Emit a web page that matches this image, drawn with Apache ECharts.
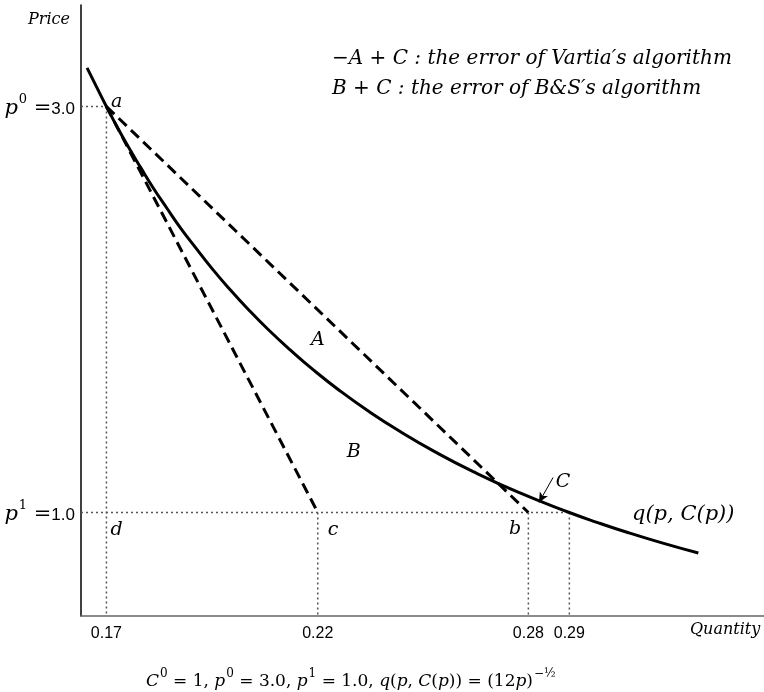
<!DOCTYPE html>
<html lang="en" style="height: 100%">
<head>
    <meta charset="utf-8" />
    <script src="https://cdn.jsdelivr.net/npm/echarts@6/dist/echarts.min.js"></script>
</head>
<body style="height: 100%; margin: 0; background: #fff">
    <div id="container" style="width: 764px; height: 692px;"></div>
    <script type="text/javascript">
        var dom = document.getElementById('container');
        var myChart = echarts.init(dom, null, { renderer: 'canvas' });

        // demand curve q(p, C(p))
        const curvePrice = [3.19, 3.1, 3.0, 2.9, 2.8, 2.7, 2.6, 2.5, 2.4, 2.3, 2.2, 2.1, 2.0, 1.9, 1.8,
            1.7, 1.6, 1.5, 1.4, 1.3, 1.2, 1.1, 1.0, 0.95, 0.9, 0.85, 0.8];
        const curveQty = [0.1616, 0.1640, 0.1667, 0.1695, 0.1725, 0.1757, 0.1790, 0.1826, 0.1863, 0.1904, 0.1946,
            0.1992, 0.2041, 0.2094, 0.2152, 0.2214, 0.2282, 0.2357, 0.2440, 0.2532, 0.2635, 0.2752, 0.2887,
            0.2962, 0.3043, 0.3131, 0.3227];

        const p0 = 3.0, p1 = 1.0;
        const qd = 0.1667;  // a / d
        const qc = 0.2224;  // c
        const qb = 0.2779;  // b
        const q1 = 0.2887;  // curve at p1
        const xTicks = [qd, qc, qb, q1];
        const yTicks = [p1, p0];
        const yTickNames = { 1: '1', 3: '0' };

        // annotations: [text, q, p]
        const pointLabels = [
            ['a', 0.1694, 3.02],
            ['d', 0.1694, 0.911],
            ['c', 0.2264, 0.911],
            ['b', 0.2744, 0.916],
            ['A', 0.2224, 1.847],
            ['B', 0.2319, 1.30],
            ['C', 0.2870, 1.148]
        ];
        const curveName = ['q(p, C(p))', 0.3052, 0.99];
        const arrowFrom = [0.2844, 1.172], arrowTo = [0.2807, 1.049];

        const xMin = 0.16, xMax = 0.34, yMin = 0.49, yMax = 3.5;

        const serifIt = { fontFamily: 'DejaVu Serif', fontStyle: 'italic', color: '#000' };
        const dotted = { color: '#555', width: 1.5, type: [2, 3] };
        const dashed = { color: '#000', width: 3, type: [11, 6] };

        function seg(pts, style) {
            return {
                type: 'line', data: pts, symbol: 'none', silent: true,
                lineStyle: style, z: 2
            };
        }

        var option = {
            backgroundColor: '#fff',
            animation: false,
            grid: { left: 81, right: 0, top: 5, bottom: 76, outerBoundsMode: 'none' },
            xAxis: {
                type: 'value', min: xMin, max: xMax,
                splitLine: { show: false },
                axisTick: { show: false },
                axisLine: { lineStyle: { color: '#666', width: 1.5 } },
                axisLabel: {
                    customValues: xTicks,
                    formatter: v => v.toFixed(2),
                    fontFamily: 'Liberation Sans', fontSize: 16, color: '#000', margin: 10
                }
            },
            yAxis: {
                type: 'value', min: yMin, max: yMax,
                splitLine: { show: false },
                axisTick: { show: false },
                axisLine: { show: true, lineStyle: { color: '#000', width: 1.5 } },
                axisLabel: {
                    customValues: yTicks,
                    margin: 6,
                    formatter: v => '{p|p}{s|' + yTickNames[Math.round(v)] + '}{e| =}{n|' + v.toFixed(1) + '}',
                    rich: {
                        p: { fontFamily: 'DejaVu Serif', fontStyle: 'italic', fontSize: 21, color: '#000', lineHeight: 26, verticalAlign: 'bottom' },
                        s: { fontFamily: 'DejaVu Serif', fontSize: 13, color: '#000', lineHeight: 26, verticalAlign: 'top', padding: [0, 0, 8, 1] },
                        e: { fontFamily: 'DejaVu Serif', fontSize: 21, color: '#000', lineHeight: 26, verticalAlign: 'bottom' },
                        n: { fontFamily: 'Liberation Sans', fontSize: 17, color: '#000', lineHeight: 26, verticalAlign: 'bottom', padding: [0, 0, 2, 0] }
                    }
                }
            },
            graphic: [
                { type: 'text', left: 28, top: 12, style: Object.assign({ text: 'Price', fontSize: 16 }, serifIt) },
                { type: 'text', left: 690, top: 622, style: Object.assign({ text: 'Quantity', fontSize: 16 }, serifIt) },
                { type: 'text', left: 332, top: 49, style: Object.assign({ text: '\u2212A + C : the error of Vartia\u2032s algorithm', fontSize: 20 }, serifIt) },
                { type: 'text', left: 332, top: 79, style: Object.assign({ text: 'B + C : the error of B&S\u2032s algorithm', fontSize: 20 }, serifIt) },
                {
                    type: 'text', left: 146, top: 668,
                    style: {
                        text: '{i|C}{s|0}{r| = 1, }{i|p}{s|0}{r| = 3.0, }{i|p}{s|1}{r| = 1.0, }{i|q}{r|(}{i|p}{r|, }{i|C}{r|(}{i|p}{r|)) = (12}{i|p}{r|)}{s|\u2212\u00bd}',
                        rich: {
                            i: { fontFamily: 'DejaVu Serif', fontStyle: 'italic', fontSize: 17, color: '#000', lineHeight: 22, verticalAlign: 'bottom' },
                            r: { fontFamily: 'DejaVu Serif', fontSize: 17, color: '#000', lineHeight: 22, verticalAlign: 'bottom' },
                            s: { fontFamily: 'DejaVu Serif', fontSize: 12, color: '#000', lineHeight: 22, verticalAlign: 'top', padding: [0, 0, 10, 1] }
                        }
                    }
                }
            ],
            series: [
                seg([[xMin, p0], [qd, p0]], dotted),
                seg([[xMin, p1], [q1, p1]], dotted),
                seg([[qd, p0], [qd, yMin]], dotted),
                seg([[qc, p1], [qc, yMin]], dotted),
                seg([[qb, p1], [qb, yMin]], dotted),
                seg([[q1, p1], [q1, yMin]], dotted),
                seg([[qd, p0], [qc, p1]], dashed),
                seg([[qd, p0], [qb, p1]], dashed),
                {
                    type: 'line', symbol: 'none', smooth: true, silent: true, z: 3,
                    lineStyle: { color: '#000', width: 3 },
                    data: curveQty.map((q, i) => [q, curvePrice[i]]),
                    markLine: {
                        silent: true, symbol: ['none', 'arrow'], symbolSize: [7, 10],
                        lineStyle: { color: '#000', width: 1, type: 'solid' },
                        label: { show: false },
                        data: [[{ coord: arrowFrom }, { coord: arrowTo }]]
                    }
                },
                {
                    type: 'scatter', symbolSize: 0, silent: true, z: 4,
                    itemStyle: { color: '#000', opacity: 1 },
                    emphasis: { disabled: true },
                    data: pointLabels.map(d => ({ value: [d[1], d[2]], name: d[0] }))
                        .concat([{ value: [curveName[1], curveName[2]], name: curveName[0],
                            label: { position: 'right', distance: 0, fontSize: 21 } }]),
                    label: {
                        show: true, position: 'inside', formatter: p => p.name,
                        fontFamily: 'DejaVu Serif', fontStyle: 'italic', fontSize: 19,
                        color: '#000', opacity: 1, textBorderWidth: 0
                    }
                }
            ]
        };

        myChart.setOption(option);
        window.addEventListener('resize', myChart.resize);
    </script>
</body>
</html>
